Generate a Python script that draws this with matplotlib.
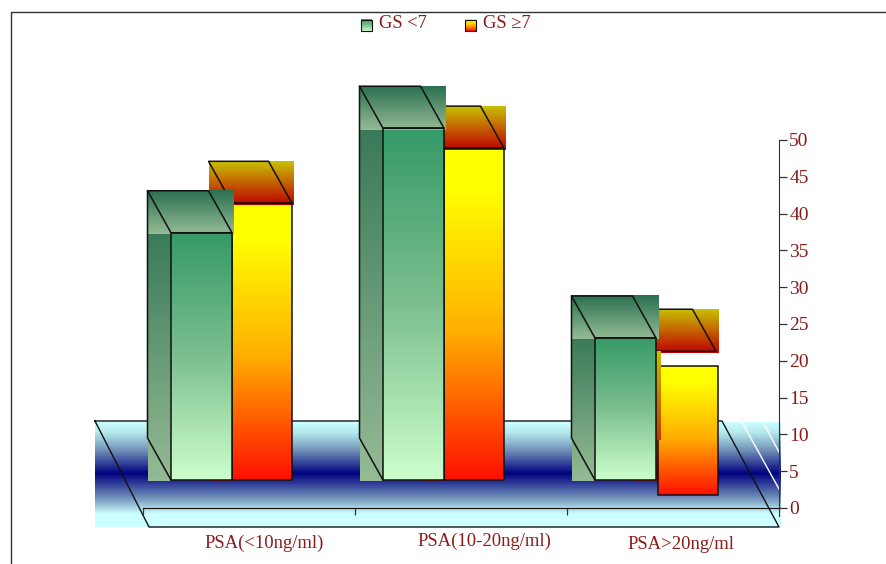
import numpy as np
import matplotlib
matplotlib.use('Agg')
import matplotlib.pyplot as plt
from matplotlib.colors import LinearSegmentedColormap
from matplotlib.patches import Polygon, Rectangle

plt.rcParams['font.family'] = ['Liberation Serif', 'DejaVu Serif']

# Values (height of the top of each bar)
categories = ['PSA(<10ng/ml)', 'PSA(10-20ng/ml)', 'PSA>20ng/ml']
series_names = ['GS <7', 'GS \u22657']
gs_low = [37.4, 51.6, 23.1]
gs_high = [41.4, 48.9, 21.3]
y_ticks = [0, 5, 10, 15, 20, 25, 30, 35, 40, 45, 50]

TEXT = '#8b1a1a'
LINE = '#111111'

# Colour ramps run from the top of a face to the bottom
green_front = LinearSegmentedColormap.from_list('gf', ['#359a68', '#7cbf8e', '#ccffcc'])
green_side = LinearSegmentedColormap.from_list('gs', ['#3a7a58', '#95bb95'])
green_cap = LinearSegmentedColormap.from_list('gc', ['#2a7050', '#95bb95'])
yellow_front = LinearSegmentedColormap.from_list('yf', [(0, '#ffff00'), (0.12, '#ffff00'), (0.55, '#ffb000'), (1, '#ff1000')])
yellow_cap = LinearSegmentedColormap.from_list('yc', ['#c8c000', '#c00000'])
floor_ramp = LinearSegmentedColormap.from_list('fl', [(0, '#ccffff'), (0.1, '#b4e8ec'), (0.27, '#6f8fb8'),
                                                      (0.49, '#000080'), (0.72, '#6f8fb8'), (0.88, '#ccffff'),
                                                      (1, '#ccffff')])

fig = plt.figure(figsize=(8.86, 5.64), dpi=100)

# Background layer in pixel coordinates: frame, floor, legend
bg = fig.add_axes([0, 0, 1, 1], zorder=0)


def ramp(axis, x0, x1, y_top, y_bottom, cmap, lo=0.0, hi=1.0, zorder=1):
    rows = np.linspace(lo, hi, 128).reshape(-1, 1)
    # origin upper puts the first row at y_top
    axis.imshow(rows, cmap=cmap, vmin=0, vmax=1, aspect='auto', origin='upper',
                extent=(x0, x1, y_bottom, y_top), zorder=zorder, clip_on=False,
                interpolation='nearest')


ramp(bg, 95, 781, 422, 527, floor_ramp)
bg.plot([11, 11, 886], [564, 12, 12], color='#333333', lw=1)
bg.plot([95, 722, 779, 149, 95], [421, 421, 527, 527, 421], color=LINE, lw=1, zorder=2)
bg.plot([742, 779], [422, 489], color='white', lw=1, zorder=2)
bg.plot([763, 779], [422, 452], color='white', lw=1, zorder=2)

# Legend
ramp(bg, 361.5, 372.5, 19.5, 31, green_front, zorder=2)
bg.add_patch(Rectangle((361.5, 19.5), 11, 11.5, fill=False, ec=LINE, lw=0.8, zorder=3))
ramp(bg, 465.5, 476.5, 19.5, 31, yellow_front, zorder=2)
bg.add_patch(Rectangle((465.5, 19.5), 11, 11.5, fill=False, ec=LINE, lw=0.8, zorder=3))
bg.text(379, 24, series_names[0], color=TEXT, fontsize=13.3, va='center', ha='left')
bg.text(483, 24, series_names[1], color=TEXT, fontsize=13.3, va='center', ha='left')
bg.set_xlim(0, 886)
bg.set_ylim(564, 0)
bg.axis('off')

# Chart layer: 0 to 50 runs from pixel row 508 up to row 140, categories from 142.5 to 778.5
ax = fig.add_axes([142.5 / 886, 56 / 564, 636 / 886, 368 / 564], zorder=1)
ax.patch.set_alpha(0)

ux = 636 / 3
uy = 368 / 50
base = 28 / uy
gap = 28.5 / ux
low_w = 61 / ux
high_w = 60 / ux
depth_x = 23.5 / ux
depth_y = 42 / uy


def draw_bar(x, w, top, front, side, cap, z, drop=0.0, shift=0.0, side_drop=0.15):
    # cap and side are drawn as plain rectangles behind their outlines, as in the source
    ramp(ax, x - depth_x, x, top, base - side_drop, side, zorder=z)
    ramp(ax, x + shift, x + shift + w, top - drop, base - drop, front, zorder=z + 1)
    ramp(ax, x - depth_x, x + w + 1.5 / ux, top + depth_y, top - 0.2, cap, zorder=z + 2)
    ax.add_patch(Rectangle((x + shift, base - drop), w, top - base, fill=False, ec=LINE, lw=1.1,
                           zorder=z + 3, clip_on=False))
    ax.add_patch(Polygon([(x - depth_x, top + depth_y), (x + w - depth_x, top + depth_y),
                          (x + w, top), (x, top)], closed=True, fill=False, ec=LINE, lw=1.1,
                         zorder=z + 3, clip_on=False))


for i in range(len(categories)):
    x_low = i + gap
    x_high = x_low + low_w
    if i == 2:
        # third orange bar is displaced in the source: its face sits lower than its cap
        draw_bar(x_high, high_w, gs_high[i], yellow_front, yellow_cap, yellow_cap, 10,
                 drop=2.0, shift=1.5 / ux, side_drop=0.27)
        # strip of the side face showing through on top of the displaced face
        ramp(ax, x_high - 1 / ux, x_high + 4.5 / ux, gs_high[i], 68 / uy, yellow_cap,
             lo=0.0, hi=0.7, zorder=15)
    else:
        draw_bar(x_high, high_w, gs_high[i], yellow_front, yellow_cap, yellow_cap, 10, side_drop=0.27)
    draw_bar(x_low, low_w, gs_low[i], green_front, green_side, green_cap, 20)
    # outline of the green side face
    ax.plot([x_low - depth_x, x_low - depth_x, x_low],
            [gs_low[i] + depth_y, base + depth_y, base],
            color=LINE, lw=1.1, zorder=24, clip_on=False)

ax.set_xlim(0, 3)
ax.set_ylim(0, 50)

for name in ['top', 'left']:
    ax.spines[name].set_visible(False)
ax.spines['right'].set_bounds(-1.1, 50)
ax.spines['right'].set_color('#333333')
ax.spines['bottom'].set_color(LINE)
ax.spines['right'].set_zorder(30)
ax.spines['bottom'].set_zorder(5)

ax.yaxis.tick_right()
ax.set_yticks(y_ticks)
ax.tick_params(axis='y', length=5.8, width=0.9, color='#333333', labelcolor=TEXT, labelsize=14, pad=2)
ax.set_xticks([0, 1, 2])
ax.set_xticklabels([])
ax.tick_params(axis='x', length=5, width=0.9, color='#333333')

# Category labels sit unevenly under the axis in the source
ax.text(0.575, -4.75, categories[0], color=TEXT, fontsize=13.4, ha='center', va='center')
ax.text(1.612, -4.5, categories[1], color=TEXT, fontsize=13.4, ha='center', va='center')
ax.text(2.54, -4.9, categories[2], color=TEXT, fontsize=13.4, ha='center', va='center')

fig.savefig('out.png', dpi=100)
